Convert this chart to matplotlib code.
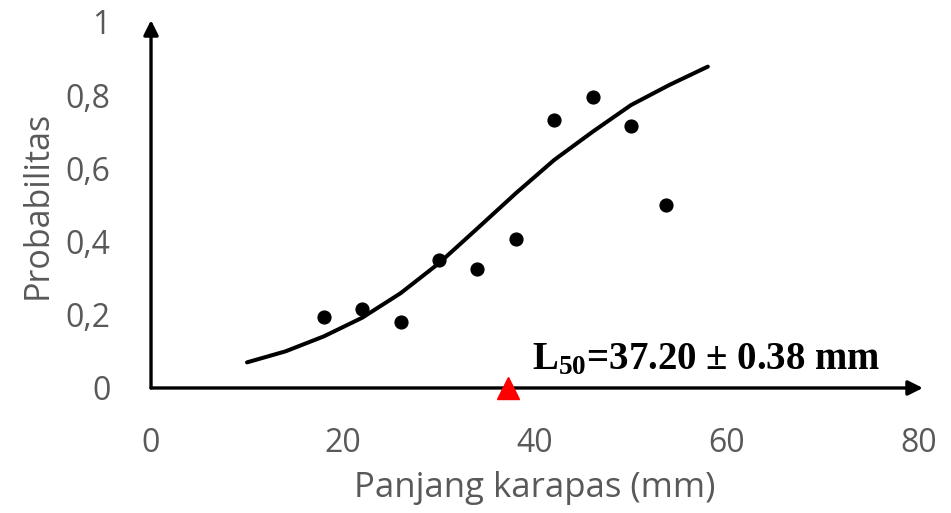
import matplotlib.pyplot as plt

plt.rcParams['mathtext.fontset'] = 'custom'
plt.rcParams['mathtext.rm'] = 'Liberation Serif:bold'
plt.rcParams['mathtext.it'] = 'Liberation Serif:bold'
plt.rcParams['mathtext.bf'] = 'Liberation Serif:bold'

# observed proportion mature by carapace length class
panjang = [18, 22, 26, 30, 34, 38, 42, 46, 50, 53.6]
proporsi = [0.193, 0.215, 0.180, 0.350, 0.324, 0.407, 0.732, 0.794, 0.717, 0.501]

# fitted logistic curve
panjang_fit = [10, 14, 18, 22, 26, 30, 34, 38, 42, 46, 50, 54, 58]
prob_fit = [0.070, 0.100, 0.141, 0.192, 0.259, 0.341, 0.436, 0.532,
            0.623, 0.700, 0.773, 0.828, 0.878]

L50 = 37.20
L50_se = 0.38

xticks = [0, 20, 40, 60, 80]
yticks = [0, 0.2, 0.4, 0.6, 0.8, 1]
ytick_labels = ['0', '0,2', '0,4', '0,6', '0,8', '1']

grey = '#595959'
tick_font = 'Open Sans'

fig = plt.figure(figsize=(9.51, 5.13), dpi=100)
ax = fig.add_axes([0.1588, 0.2437, 0.8076, 0.7135])

ax.plot(panjang_fit, prob_fit, color='black', lw=2.9, solid_capstyle='round',
        zorder=3)
ax.scatter(panjang, proporsi, s=85, color='black', zorder=4)
ax.plot([L50], [0], marker='^', markersize=16, color='red', linestyle='none',
        clip_on=False, zorder=5)

ax.text(39.66, 0.051, f'L$_{{50}}$={L50:.2f} ± {L50_se:.2f} mm',
        family='Liberation Serif', weight='bold', fontsize=28,
        ha='left', va='baseline', color='black')

ax.set_xlim(0, 80)
ax.set_ylim(0, 1)
for side in ax.spines.values():
    side.set_visible(False)

# axes drawn as arrows
ax.annotate('', xy=(80.4, 0), xytext=(0, 0), xycoords='data',
            arrowprops=dict(arrowstyle='-|>', lw=2.4, color='black',
                            mutation_scale=22, shrinkA=0, shrinkB=0),
            annotation_clip=False, zorder=2)
ax.annotate('', xy=(0, 1.005), xytext=(0, 0), xycoords='data',
            arrowprops=dict(arrowstyle='-|>', lw=2.4, color='black',
                            mutation_scale=22, shrinkA=0, shrinkB=0),
            annotation_clip=False, zorder=2)

ax.set_xticks(xticks)
ax.set_xticklabels([str(t) for t in xticks])
ax.set_yticks(yticks)
ax.set_yticklabels(ytick_labels)
ax.tick_params(axis='both', length=0, labelsize=23, labelcolor=grey)
ax.tick_params(axis='x', pad=28)
ax.tick_params(axis='y', pad=29)
for lab in ax.get_xticklabels() + ax.get_yticklabels():
    lab.set_family(tick_font)

ax.set_xlabel('Panjang karapas (mm)', family=tick_font, fontsize=25,
              color=grey, labelpad=8)
ax.set_ylabel('Probabilitas', family=tick_font, fontsize=24.5, color=grey,
              labelpad=8)

fig.savefig('out.png', dpi=100)
